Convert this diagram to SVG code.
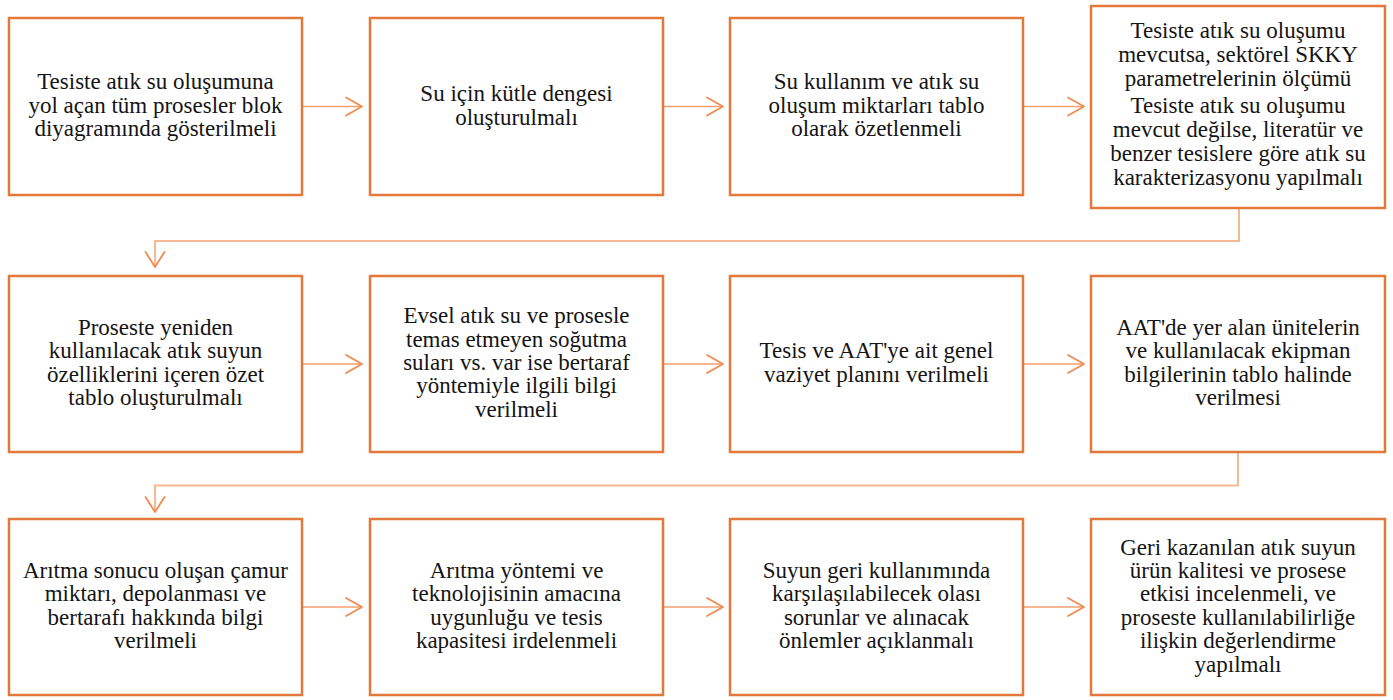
<svg xmlns="http://www.w3.org/2000/svg" width="1393" height="700" viewBox="0 0 1393 700">
<style>
.box{fill:#ffffff;stroke:#E2793A;stroke-width:2.5}
.t{font-family:"Liberation Serif","Times New Roman",serif;font-size:23px;fill:#141414;text-anchor:middle}
.c{fill:none;stroke:#F3A070;stroke-width:1.6}
.e{fill:none;stroke:#F5B994;stroke-width:2}
.h{fill:none;stroke:#EF8B50;stroke-width:1.8;stroke-linecap:round;stroke-linejoin:round}
</style>
<rect width="1393" height="700" fill="#ffffff"/>
<g id="connectors">
  <line class="c" x1="302" y1="106.5" x2="362" y2="106.5"/>
  <polyline class="h" points="346,97.5 362,106.5 346,115.5"/>
  <line class="c" x1="663" y1="106.5" x2="723" y2="106.5"/>
  <polyline class="h" points="707,97.5 723,106.5 707,115.5"/>
  <line class="c" x1="1023" y1="106.5" x2="1084" y2="106.5"/>
  <polyline class="h" points="1068,97.5 1084,106.5 1068,115.5"/>
  <polyline class="e" points="1239,208 1239,241 155,241 155,266"/>
  <polyline class="h" points="145.5,252 155,267 164.5,252"/>
  <line class="c" x1="302" y1="364" x2="362" y2="364"/>
  <polyline class="h" points="346,355 362,364 346,373"/>
  <line class="c" x1="663" y1="364" x2="723" y2="364"/>
  <polyline class="h" points="707,355 723,364 707,373"/>
  <line class="c" x1="1023" y1="364" x2="1084" y2="364"/>
  <polyline class="h" points="1068,355 1084,364 1068,373"/>
  <polyline class="e" points="1238,452 1238,485.5 155,485.5 155,511"/>
  <polyline class="h" points="145.5,497 155,512 164.5,497"/>
  <line class="c" x1="302" y1="607" x2="362" y2="607"/>
  <polyline class="h" points="346,598 362,607 346,616"/>
  <line class="c" x1="663" y1="607" x2="723" y2="607"/>
  <polyline class="h" points="707,598 723,607 707,616"/>
  <line class="c" x1="1023" y1="607" x2="1084" y2="607"/>
  <polyline class="h" points="1068,598 1084,607 1068,616"/>
</g>
<g id="n1">
  <rect class="box" x="9" y="18" width="293" height="177"/>
  <text class="t" x="155.5" y="89">Tesiste atık su oluşumuna</text>
  <text class="t" x="155.5" y="112.5">yol açan tüm prosesler blok</text>
  <text class="t" x="155.5" y="136">diyagramında gösterilmeli</text>
</g>
<g id="n2">
  <rect class="box" x="370" y="18" width="293" height="177"/>
  <text class="t" x="516.5" y="101">Su için kütle dengesi</text>
  <text class="t" x="516.5" y="124.5">oluşturulmalı</text>
</g>
<g id="n3">
  <rect class="box" x="730" y="18" width="293" height="177"/>
  <text class="t" x="876.5" y="89">Su kullanım ve atık su</text>
  <text class="t" x="876.5" y="112.5">oluşum miktarları tablo</text>
  <text class="t" x="876.5" y="136">olarak özetlenmeli</text>
</g>
<g id="n4">
  <rect class="box" x="1091" y="6" width="294" height="202"/>
  <text class="t" x="1238" y="38">Tesiste atık su oluşumu</text>
  <text class="t" x="1238" y="62">mevcutsa, sektörel SKKY</text>
  <text class="t" x="1238" y="86">parametrelerinin ölçümü</text>
  <text class="t" x="1238" y="113">Tesiste atık su oluşumu</text>
  <text class="t" x="1238" y="137">mevcut değilse, literatür ve</text>
  <text class="t" x="1238" y="161">benzer tesislere göre atık su</text>
  <text class="t" x="1238" y="185">karakterizasyonu yapılmalı</text>
</g>
<g id="n5">
  <rect class="box" x="9" y="276" width="293" height="176"/>
  <text class="t" x="155.5" y="335">Proseste yeniden</text>
  <text class="t" x="155.5" y="358.3">kullanılacak atık suyun</text>
  <text class="t" x="155.5" y="381.7">özelliklerini içeren özet</text>
  <text class="t" x="155.5" y="405">tablo oluşturulmalı</text>
</g>
<g id="n6">
  <rect class="box" x="370" y="276" width="293" height="176"/>
  <text class="t" x="516.5" y="323.2">Evsel atık su ve prosesle</text>
  <text class="t" x="516.5" y="346.6">temas etmeyen soğutma</text>
  <text class="t" x="516.5" y="370">suları vs. var ise bertaraf</text>
  <text class="t" x="516.5" y="393.4">yöntemiyle ilgili bilgi</text>
  <text class="t" x="516.5" y="416.8">verilmeli</text>
</g>
<g id="n7">
  <rect class="box" x="730" y="276" width="293" height="176"/>
  <text class="t" x="876.5" y="358.3">Tesis ve AAT'ye ait genel</text>
  <text class="t" x="876.5" y="381.7">vaziyet planını verilmeli</text>
</g>
<g id="n8">
  <rect class="box" x="1091" y="276" width="294" height="176"/>
  <text class="t" x="1238" y="335">AAT'de yer alan ünitelerin</text>
  <text class="t" x="1238" y="358.3">ve kullanılacak ekipman</text>
  <text class="t" x="1238" y="381.7">bilgilerinin tablo halinde</text>
  <text class="t" x="1238" y="405">verilmesi</text>
</g>
<g id="n9">
  <rect class="box" x="9" y="519" width="293" height="176"/>
  <text class="t" x="155.5" y="578">Arıtma sonucu oluşan çamur</text>
  <text class="t" x="155.5" y="601.3">miktarı, depolanması ve</text>
  <text class="t" x="155.5" y="624.7">bertarafı hakkında bilgi</text>
  <text class="t" x="155.5" y="648">verilmeli</text>
</g>
<g id="n10">
  <rect class="box" x="370" y="519" width="293" height="176"/>
  <text class="t" x="516.5" y="578">Arıtma yöntemi ve</text>
  <text class="t" x="516.5" y="601.3">teknolojisinin amacına</text>
  <text class="t" x="516.5" y="624.7">uygunluğu ve tesis</text>
  <text class="t" x="516.5" y="648">kapasitesi irdelenmeli</text>
</g>
<g id="n11">
  <rect class="box" x="730" y="519" width="293" height="176"/>
  <text class="t" x="876.5" y="578">Suyun geri kullanımında</text>
  <text class="t" x="876.5" y="601.3">karşılaşılabilecek olası</text>
  <text class="t" x="876.5" y="624.7">sorunlar ve alınacak</text>
  <text class="t" x="876.5" y="648">önlemler açıklanmalı</text>
</g>
<g id="n12">
  <rect class="box" x="1091" y="519" width="294" height="176"/>
  <text class="t" x="1238" y="554.5">Geri kazanılan atık suyun</text>
  <text class="t" x="1238" y="577.9">ürün kalitesi ve prosese</text>
  <text class="t" x="1238" y="601.3">etkisi incelenmeli, ve</text>
  <text class="t" x="1238" y="624.7">proseste kullanılabilirliğe</text>
  <text class="t" x="1238" y="648.1">ilişkin değerlendirme</text>
  <text class="t" x="1238" y="671.5">yapılmalı</text>
</g>
</svg>
